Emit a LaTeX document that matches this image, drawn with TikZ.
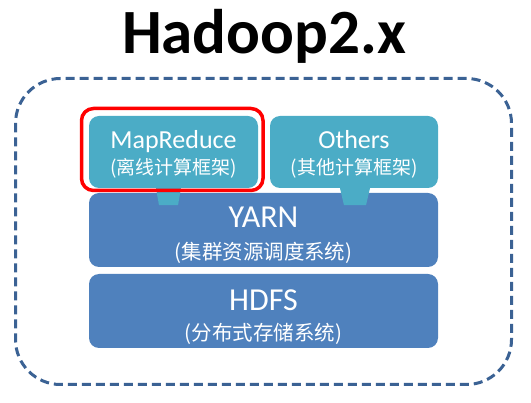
\documentclass[tikz,border=0pt]{standalone}
\usepackage{fontspec}
\setmainfont{Carlito}
\newfontfamily\cjk{Noto Sans CJK SC}
\usetikzlibrary{calc}
\definecolor{tealc}{HTML}{4BACC6}
\definecolor{bluec}{HTML}{4F81BD}
\definecolor{dashc}{HTML}{3B6294}
\begin{document}
\begin{tikzpicture}[x=1pt,y=-1pt,
  tealbox/.style={fill=tealc, rounded corners=10pt, minimum width=169pt, minimum height=72pt, inner sep=0pt},
  bluebox/.style={fill=bluec, rounded corners=10pt, minimum width=349pt, minimum height=74pt, inner sep=0pt},
  tabshape/.style={fill=tealc},
  lat/.style={text=white, anchor=base, inner sep=0pt, font=\fontsize{26}{26}\selectfont},
  latbig/.style={text=white, anchor=base, inner sep=0pt, font=\fontsize{32}{32}\selectfont},
  zh/.style={text=white, anchor=base, inner sep=0pt, font=\cjk\fontsize{19}{19}\selectfont},
  zhbig/.style={text=white, anchor=base, inner sep=0pt, font=\cjk\fontsize{20.5}{20.5}\selectfont}]
\useasboundingbox (0,0) rectangle (531,403);
% title
\node[anchor=base, inner sep=0pt, font=\bfseries\fontsize{63}{63}\selectfont] (title) at (264,53.5) {Hadoop2.x};
% outer dashed frame
\draw[dashc, line width=3pt, dash pattern=on 9pt off 5pt, rounded corners=45pt] (15.5,78.5) rectangle (511.5,384.5);
% boxes
\node[tealbox] (mr) at (173.5,152) {};
\node[tealbox, minimum width=168pt] (oth) at (354,152) {};
\node[bluebox] (yarn) at (263.5,230) {};
\node[bluebox] (hdfs) at (263.5,311) {};
% tabs
\fill[tabshape] ($(mr.south)+(-17.5,0)$) -- ($(mr.south)+(7.5,0)$) -- ($(mr.south)+(4.5,17)$) -- ($(mr.south)+(-14.5,17)$) -- cycle;
\fill[tabshape] ($(oth.south)+(-14,0)$) -- ($(oth.south)+(16,0)$) -- ($(oth.south)+(12,17)$) -- ($(oth.south)+(-10,17)$) -- cycle;
% red highlight
\node[draw=red, line width=3.5pt, rounded corners=12pt, minimum width=181.5pt, minimum height=82pt, inner sep=0pt] (hl) at (172.25,149.5) {};
% labels
\node[lat] (mrt) at ($(mr.center)+(0,-3.5)$) {MapReduce};
\node[zh] (mrz) at ($(mr.center)+(0,23)$) {(离线计算框架)};
\node[lat] (otht) at ($(oth.center)+(0,-3.5)$) {Others};
\node[zh] (othz) at ($(oth.center)+(0,23)$) {(其他计算框架)};
\node[latbig] (yarnt) at ($(yarn.center)+(0,-2)$) {YARN};
\node[zhbig] (yarnz) at ($(yarn.center)+(0,29.6)$) {(集群资源调度系统)};
\node[latbig] (hdfst) at ($(hdfs.center)+(0,-0.5)$) {HDFS};
\node[zhbig] (hdfsz) at ($(hdfs.center)+(0,29.6)$) {(分布式存储系统)};
\end{tikzpicture}
\end{document}
